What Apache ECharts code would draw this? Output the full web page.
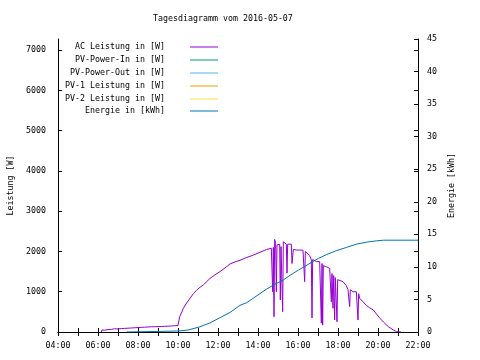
<!DOCTYPE html>
<html><head><meta charset="utf-8">
<script src="https://cdn.jsdelivr.net/npm/echarts@6/dist/echarts.min.js"></script>
<style>html,body{margin:0;padding:0;background:#fff}#c{width:480px;height:360px}</style>
</head><body><div id="c"></div>
<script>
var titleText = 'Tagesdiagramm vom 2016-05-07';
var seriesNames = ['AC Leistung in [W]','PV-Power-In in [W]','PV-Power-Out in [W]','PV-1 Leistung in [W]','PV-2 Leistung in [W]','Energie in [kWh]'];
var seriesColors = ['#9400d3','#009e73','#56b4e9','#e69f00','#f0e442','#0072b2'];

var acTimes = ['06:10','06:12','06:20','06:30','06:36','06:40','06:50','07:00','07:05','07:10','07:20','07:30','07:35','07:40','07:50','08:00','08:05','08:10','08:20','08:30','08:35','08:40','08:50','09:00','09:10','09:15','09:20','09:30','09:40','09:50','10:00','10:03','10:05','10:10','10:16','10:26','10:36','10:46','10:56','11:06','11:16','11:26','11:36','11:51','12:06','12:21','12:36','12:51','13:06','13:26','13:46','14:06','14:26','14:40','14:44','14:46','14:48','14:50','14:53','14:55','14:57','15:00','15:05','15:07','15:09','15:14','15:16','15:20','15:25','15:27','15:29','15:40','15:42','15:44','15:46','15:55','16:05','16:15','16:20','16:22','16:35','16:40','16:42','16:44','16:55','17:05','17:10','17:12','17:14','17:16','17:25','17:35','17:40','17:42','17:45','17:47','17:50','17:52','17:57','17:59','18:05','18:15','18:25','18:30','18:35','18:37','18:45','18:55','19:00','19:02','19:05','19:15','19:25','19:35','19:46','19:56','20:06','20:16','20:31','20:46','20:56','21:09'];
var acValues = [0,50,45,60,30,65,80,75,50,85,90,95,60,100,105,110,80,115,120,125,90,130,130,135,135,100,140,145,150,155,160,175,380,470,590,720,836,950,1040,1110,1170,1250,1330,1420,1500,1590,1690,1740,1780,1850,1910,1980,2050,2080,1000,2100,380,2300,2200,1000,2160,2170,2180,794,2120,504,2240,2240,2180,1460,2180,2180,1700,1710,2050,2035,2035,2030,1250,2000,1900,1790,350,1800,1750,1750,220,1700,170,1650,1620,1580,750,1450,590,1400,300,1350,255,1300,1340,1250,1150,1050,630,1050,1000,1000,300,950,836,750,660,600,546,440,340,250,132,50,8,0];

var enTimes = ['07:26','10:00','10:30','11:06','11:36','12:06','12:36','13:06','13:26','13:46','14:06','14:26','14:46','15:16','15:36','16:01','16:31','17:01','17:26','17:56','18:26','18:56','19:26','19:56','20:16','22:00'];
var enValues = [0,0.15,0.3,0.8,1.4,2.2,3.0,4.1,4.5,5.2,5.9,6.6,7.2,8.0,8.7,9.5,10.4,11.3,11.9,12.5,13.0,13.5,13.8,14.0,14.1,14.1];

var pvInValues = [], pvOutValues = [], pv1Values = [], pv2Values = [];

var xTickLabels = ['04:00','06:00','08:00','10:00','12:00','14:00','16:00','18:00','20:00','22:00'];

function toMin(t){var p=t.split(':');return (+p[0])*60+(+p[1]);}
function pairs(ts, vs){return ts.map(function(t,i){return [toMin(t), vs[i]];});}

var FONT = 'DejaVu Sans Mono';
var FS = 8.3;
var legendRowsTop = [43, 56, 69, 82, 95, 107];

var legends = seriesNames.map(function(n,i){
  return {
    data:[n], right: 262, top: legendRowsTop[i], orient:'vertical', align:'right',
    icon:'rect', itemWidth:28, itemHeight:1, padding:0, selectedMode:false,
    textStyle:{fontFamily:FONT,fontSize:FS,color:'#000',padding:[0,20,0,0]}
  };
});

var chart = echarts.init(document.getElementById('c'), null, {renderer:'canvas'});
var axisLineStyle = {lineStyle:{color:'#000',width:1}};
function plain(v){return String(v);}
chart.setOption({
  animation:false,
  backgroundColor:'#fff',
  title:{text:titleText,left:153,top:15,padding:0,textStyle:{fontFamily:FONT,fontSize:FS,fontWeight:'normal',color:'#000'}},
  legend: legends,
  grid:{left:58,right:62,top:39,bottom:28,containLabel:false,outerBoundsMode:'none'},
  xAxis:[
    {type:'value',position:'bottom',min:240,max:1320,interval:60,
     axisLine:axisLineStyle,axisTick:{inside:true,length:4,lineStyle:{color:'#000'}},
     splitLine:{show:false},
     axisLabel:{fontFamily:FONT,fontSize:FS,color:'#000',margin:10,
       formatter:function(v){if(v%120!==0)return '';var h=Math.round(v/60);return xTickLabels[(h-4)/2]||'';}}},
    {type:'value',position:'top',min:240,max:1320,interval:60,
     axisLine:axisLineStyle,axisTick:{inside:true,length:4,lineStyle:{color:'#000'}},
     axisLabel:{show:false},splitLine:{show:false}}
  ],
  yAxis:[
    {type:'value',position:'left',min:0,max:7275,interval:1000,
     name:'Leistung [W]',nameLocation:'middle',nameRotate:90,nameGap:43,
     nameTextStyle:{fontFamily:FONT,fontSize:FS,color:'#000'},
     axisLine:{show:true,lineStyle:{color:'#000'}},axisTick:{show:true,inside:true,length:4,lineStyle:{color:'#000'}},
     axisLabel:{fontFamily:FONT,fontSize:FS,color:'#000',margin:12,showMaxLabel:false,formatter:plain},splitLine:{show:false}},
    {type:'value',position:'right',min:0,max:45,interval:5,
     name:'Energie [kWh]',nameLocation:'middle',nameRotate:90,nameGap:29,
     nameTextStyle:{fontFamily:FONT,fontSize:FS,color:'#000'},
     axisLine:{show:true,lineStyle:{color:'#000'}},axisTick:{show:true,inside:true,length:4,lineStyle:{color:'#000'}},
     axisLabel:{fontFamily:FONT,fontSize:FS,color:'#000',margin:9,formatter:plain},splitLine:{show:false}},
    {type:'value',position:'right',min:0,max:7275,interval:1000,
     axisLine:{show:false},axisTick:{show:true,inside:true,length:4,lineStyle:{color:'#000'}},
     axisLabel:{show:false},splitLine:{show:false}}
  ],
  series:[
    {name:seriesNames[0],type:'line',yAxisIndex:0,data:pairs(acTimes,acValues),showSymbol:false,color:seriesColors[0],lineStyle:{width:1}},
    {name:seriesNames[1],type:'line',yAxisIndex:0,data:pvInValues,showSymbol:false,color:seriesColors[1],lineStyle:{width:1}},
    {name:seriesNames[2],type:'line',yAxisIndex:0,data:pvOutValues,showSymbol:false,color:seriesColors[2],lineStyle:{width:1}},
    {name:seriesNames[3],type:'line',yAxisIndex:0,data:pv1Values,showSymbol:false,color:seriesColors[3],lineStyle:{width:1}},
    {name:seriesNames[4],type:'line',yAxisIndex:0,data:pv2Values,showSymbol:false,color:seriesColors[4],lineStyle:{width:1}},
    {name:seriesNames[5],type:'line',yAxisIndex:1,data:pairs(enTimes,enValues),showSymbol:false,color:seriesColors[5],lineStyle:{width:1}}
  ]
});
</script></body></html>
